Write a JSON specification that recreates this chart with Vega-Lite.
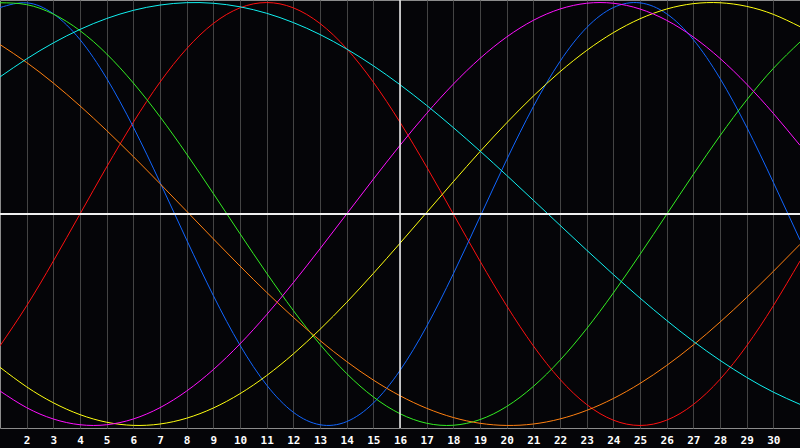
{
  "$schema": "https://vega.github.io/schema/vega-lite/v6.json",
  "width": 800,
  "height": 428,
  "padding": {"left": 0, "top": 0, "right": 0, "bottom": 20},
  "autosize": {"type": "none"},
  "background": "#050508",
  "config": {
    "view": {"stroke": "#8c8c8c", "strokeWidth": 1, "fill": "#050508"},
    "axis": {"labelOverlap": false, "labelSeparation": 0, "labelBound": false, "labelFlush": false}
  },
  "datasets": {
    "curves": [
      {"d":1,"s":"Emotional","v":-0.6235},{"d":2,"s":"Emotional","v":-0.4339},{"d":3,"s":"Emotional","v":-0.2225},{"d":4,"s":"Emotional","v":0},{"d":5,"s":"Emotional","v":0.2225},{"d":6,"s":"Emotional","v":0.4339},{"d":7,"s":"Emotional","v":0.6235},{"d":8,"s":"Emotional","v":0.7818},{"d":9,"s":"Emotional","v":0.901},{"d":10,"s":"Emotional","v":0.9749},{"d":11,"s":"Emotional","v":1},{"d":12,"s":"Emotional","v":0.9749},{"d":13,"s":"Emotional","v":0.901},{"d":14,"s":"Emotional","v":0.7818},{"d":15,"s":"Emotional","v":0.6235},{"d":16,"s":"Emotional","v":0.4339},{"d":17,"s":"Emotional","v":0.2225},{"d":18,"s":"Emotional","v":0},{"d":19,"s":"Emotional","v":-0.2225},{"d":20,"s":"Emotional","v":-0.4339},{"d":21,"s":"Emotional","v":-0.6235},{"d":22,"s":"Emotional","v":-0.7818},{"d":23,"s":"Emotional","v":-0.901},{"d":24,"s":"Emotional","v":-0.9749},{"d":25,"s":"Emotional","v":-1},{"d":26,"s":"Emotional","v":-0.9749},{"d":27,"s":"Emotional","v":-0.901},{"d":28,"s":"Emotional","v":-0.7818},{"d":29,"s":"Emotional","v":-0.6235},{"d":30,"s":"Emotional","v":-0.4339},{"d":31,"s":"Emotional","v":-0.2225},

      {"d":1,"s":"Physical","v":0.9762},{"d":2,"s":"Physical","v":0.9985},{"d":3,"s":"Physical","v":0.9468},{"d":4,"s":"Physical","v":0.8248},{"d":5,"s":"Physical","v":0.6413},{"d":6,"s":"Physical","v":0.411},{"d":7,"s":"Physical","v":0.1497},{"d":8,"s":"Physical","v":-0.1226},{"d":9,"s":"Physical","v":-0.3859},{"d":10,"s":"Physical","v":-0.6205},{"d":11,"s":"Physical","v":-0.809},{"d":12,"s":"Physical","v":-0.9376},{"d":13,"s":"Physical","v":-0.9966},{"d":14,"s":"Physical","v":-0.9818},{"d":15,"s":"Physical","v":-0.8941},{"d":16,"s":"Physical","v":-0.74},{"d":17,"s":"Physical","v":-0.5313},{"d":18,"s":"Physical","v":-0.2828},{"d":19,"s":"Physical","v":-0.0136},{"d":20,"s":"Physical","v":0.2566},{"d":21,"s":"Physical","v":0.5078},{"d":22,"s":"Physical","v":0.7216},{"d":23,"s":"Physical","v":0.8815},{"d":24,"s":"Physical","v":0.9762},{"d":25,"s":"Physical","v":0.9985},{"d":26,"s":"Physical","v":0.9468},{"d":27,"s":"Physical","v":0.8248},{"d":28,"s":"Physical","v":0.6413},{"d":29,"s":"Physical","v":0.411},{"d":30,"s":"Physical","v":0.1497},{"d":31,"s":"Physical","v":-0.1226},

      {"d":1,"s":"Intellectual","v":0.9988},{"d":2,"s":"Intellectual","v":0.9901},{"d":3,"s":"Intellectual","v":0.9456},{"d":4,"s":"Intellectual","v":0.867},{"d":5,"s":"Intellectual","v":0.757},{"d":6,"s":"Intellectual","v":0.6195},{"d":7,"s":"Intellectual","v":0.4599},{"d":8,"s":"Intellectual","v":0.2835},{"d":9,"s":"Intellectual","v":0.0969},{"d":10,"s":"Intellectual","v":-0.0932},{"d":11,"s":"Intellectual","v":-0.2798},{"d":12,"s":"Intellectual","v":-0.4565},{"d":13,"s":"Intellectual","v":-0.6165},{"d":14,"s":"Intellectual","v":-0.7545},{"d":15,"s":"Intellectual","v":-0.8651},{"d":16,"s":"Intellectual","v":-0.9444},{"d":17,"s":"Intellectual","v":-0.9896},{"d":18,"s":"Intellectual","v":-0.999},{"d":19,"s":"Intellectual","v":-0.9723},{"d":20,"s":"Intellectual","v":-0.9104},{"d":21,"s":"Intellectual","v":-0.8155},{"d":22,"s":"Intellectual","v":-0.6915},{"d":23,"s":"Intellectual","v":-0.5423},{"d":24,"s":"Intellectual","v":-0.3735},{"d":25,"s":"Intellectual","v":-0.1912},{"d":26,"s":"Intellectual","v":-0.0019},{"d":27,"s":"Intellectual","v":0.1874},{"d":28,"s":"Intellectual","v":0.3699},{"d":29,"s":"Intellectual","v":0.539},{"d":30,"s":"Intellectual","v":0.6884},{"d":31,"s":"Intellectual","v":0.8135},

      {"d":1,"s":"Aesthetic","v":-0.725},{"d":2,"s":"Aesthetic","v":-0.8175},{"d":3,"s":"Aesthetic","v":-0.8927},{"d":4,"s":"Aesthetic","v":-0.9488},{"d":5,"s":"Aesthetic","v":-0.9847},{"d":6,"s":"Aesthetic","v":-0.9996},{"d":7,"s":"Aesthetic","v":-0.9932},{"d":8,"s":"Aesthetic","v":-0.9656},{"d":9,"s":"Aesthetic","v":-0.9175},{"d":10,"s":"Aesthetic","v":-0.8498},{"d":11,"s":"Aesthetic","v":-0.764},{"d":12,"s":"Aesthetic","v":-0.6618},{"d":13,"s":"Aesthetic","v":-0.5456},{"d":14,"s":"Aesthetic","v":-0.4179},{"d":15,"s":"Aesthetic","v":-0.2811},{"d":16,"s":"Aesthetic","v":-0.1383},{"d":17,"s":"Aesthetic","v":0.0073},{"d":18,"s":"Aesthetic","v":0.1528},{"d":19,"s":"Aesthetic","v":0.2951},{"d":20,"s":"Aesthetic","v":0.431},{"d":21,"s":"Aesthetic","v":0.5577},{"d":22,"s":"Aesthetic","v":0.6727},{"d":23,"s":"Aesthetic","v":0.7734},{"d":24,"s":"Aesthetic","v":0.8575},{"d":25,"s":"Aesthetic","v":0.9232},{"d":26,"s":"Aesthetic","v":0.9693},{"d":27,"s":"Aesthetic","v":0.9948},{"d":28,"s":"Aesthetic","v":0.999},{"d":29,"s":"Aesthetic","v":0.982},{"d":30,"s":"Aesthetic","v":0.9441},{"d":31,"s":"Aesthetic","v":0.886},

      {"d":1,"s":"Intuitive","v":-0.8371},{"d":2,"s":"Intuitive","v":-0.9158},{"d":3,"s":"Intuitive","v":-0.9694},{"d":4,"s":"Intuitive","v":-0.9966},{"d":5,"s":"Intuitive","v":-0.9966},{"d":6,"s":"Intuitive","v":-0.9694},{"d":7,"s":"Intuitive","v":-0.9158},{"d":8,"s":"Intuitive","v":-0.8371},{"d":9,"s":"Intuitive","v":-0.7358},{"d":10,"s":"Intuitive","v":-0.6142},{"d":11,"s":"Intuitive","v":-0.4759},{"d":12,"s":"Intuitive","v":-0.3247},{"d":13,"s":"Intuitive","v":-0.1646},{"d":14,"s":"Intuitive","v":0},{"d":15,"s":"Intuitive","v":0.1646},{"d":16,"s":"Intuitive","v":0.3247},{"d":17,"s":"Intuitive","v":0.4759},{"d":18,"s":"Intuitive","v":0.6142},{"d":19,"s":"Intuitive","v":0.7358},{"d":20,"s":"Intuitive","v":0.8371},{"d":21,"s":"Intuitive","v":0.9158},{"d":22,"s":"Intuitive","v":0.9694},{"d":23,"s":"Intuitive","v":0.9966},{"d":24,"s":"Intuitive","v":0.9966},{"d":25,"s":"Intuitive","v":0.9694},{"d":26,"s":"Intuitive","v":0.9158},{"d":27,"s":"Intuitive","v":0.8371},{"d":28,"s":"Intuitive","v":0.7358},{"d":29,"s":"Intuitive","v":0.6142},{"d":30,"s":"Intuitive","v":0.4759},{"d":31,"s":"Intuitive","v":0.3247},

      {"d":1,"s":"Awareness","v":0.8013},{"d":2,"s":"Awareness","v":0.7163},{"d":3,"s":"Awareness","v":0.6193},{"d":4,"s":"Awareness","v":0.5113},{"d":5,"s":"Awareness","v":0.3947},{"d":6,"s":"Awareness","v":0.2714},{"d":7,"s":"Awareness","v":0.1435},{"d":8,"s":"Awareness","v":0.0131},{"d":9,"s":"Awareness","v":-0.1175},{"d":10,"s":"Awareness","v":-0.2462},{"d":11,"s":"Awareness","v":-0.3706},{"d":12,"s":"Awareness","v":-0.4886},{"d":13,"s":"Awareness","v":-0.5983},{"d":14,"s":"Awareness","v":-0.6978},{"d":15,"s":"Awareness","v":-0.7853},{"d":16,"s":"Awareness","v":-0.8594},{"d":17,"s":"Awareness","v":-0.9188},{"d":18,"s":"Awareness","v":-0.9625},{"d":19,"s":"Awareness","v":-0.9897},{"d":20,"s":"Awareness","v":-0.9999},{"d":21,"s":"Awareness","v":-0.9931},{"d":22,"s":"Awareness","v":-0.9692},{"d":23,"s":"Awareness","v":-0.9288},{"d":24,"s":"Awareness","v":-0.8725},{"d":25,"s":"Awareness","v":-0.8013},{"d":26,"s":"Awareness","v":-0.7163},{"d":27,"s":"Awareness","v":-0.6193},{"d":28,"s":"Awareness","v":-0.5113},{"d":29,"s":"Awareness","v":-0.3947},{"d":30,"s":"Awareness","v":-0.2714},{"d":31,"s":"Awareness","v":-0.1435},

      {"d":1,"s":"Spiritual","v":0.6483},{"d":2,"s":"Spiritual","v":0.7336},{"d":3,"s":"Spiritual","v":0.809},{"d":4,"s":"Spiritual","v":0.8729},{"d":5,"s":"Spiritual","v":0.9245},{"d":6,"s":"Spiritual","v":0.9631},{"d":7,"s":"Spiritual","v":0.9881},{"d":8,"s":"Spiritual","v":0.9994},{"d":9,"s":"Spiritual","v":0.9966},{"d":10,"s":"Spiritual","v":0.9798},{"d":11,"s":"Spiritual","v":0.9492},{"d":12,"s":"Spiritual","v":0.9053},{"d":13,"s":"Spiritual","v":0.8488},{"d":14,"s":"Spiritual","v":0.7804},{"d":15,"s":"Spiritual","v":0.7009},{"d":16,"s":"Spiritual","v":0.6115},{"d":17,"s":"Spiritual","v":0.5136},{"d":18,"s":"Spiritual","v":0.4086},{"d":19,"s":"Spiritual","v":0.2979},{"d":20,"s":"Spiritual","v":0.1828},{"d":21,"s":"Spiritual","v":0.0652},{"d":22,"s":"Spiritual","v":-0.0532},{"d":23,"s":"Spiritual","v":-0.1709},{"d":24,"s":"Spiritual","v":-0.2862},{"d":25,"s":"Spiritual","v":-0.3976},{"d":26,"s":"Spiritual","v":-0.5033},{"d":27,"s":"Spiritual","v":-0.6021},{"d":28,"s":"Spiritual","v":-0.6921},{"d":29,"s":"Spiritual","v":-0.7726},{"d":30,"s":"Spiritual","v":-0.8424},{"d":31,"s":"Spiritual","v":-0.9002}
    ],
    "today": [{"d":16}],
    "zero": [{"v":0}]
  },
  "layer": [
    {
      "data": {"name": "curves"},
      "mark": {"type": "line", "interpolate": "natural", "strokeWidth": 1, "clip": true},
      "encoding": {
        "x": {
          "field": "d", "type": "quantitative",
          "scale": {"domain": [1, 31], "nice": false, "zero": false},
          "axis": {
            "values": [2,3,4,5,6,7,8,9,10,11,12,13,14,15,16,17,18,19,20,21,22,23,24,25,26,27,28,29,30],
            "title": null, "domain": false, "ticks": false,
            "grid": true, "gridColor": "#444444", "gridWidth": 1,
            "labelColor": "#ffffff", "labelFont": "DejaVu Sans Mono", "labelFontWeight": "bold",
            "labelFontSize": 11, "labelPadding": 6, "labelDx": -1,
            "labelOverlap": false, "labelSeparation": 0
          }
        },
        "y": {
          "field": "v", "type": "quantitative",
          "scale": {"domain": [-1.012, 1.012], "nice": false, "zero": false},
          "axis": null
        },
        "color": {
          "field": "s", "type": "nominal", "legend": null,
          "scale": {
            "domain": ["Physical","Emotional","Intellectual","Intuitive","Aesthetic","Awareness","Spiritual"],
            "range": ["#1166ff","#ff1010","#33ee22","#ff10ff","#ffff10","#ff8010","#10f0f0"]
          }
        }
      }
    },
    {
      "data": {"name": "today"},
      "mark": {"type": "rule", "color": "#f0f0f0", "strokeWidth": 1.5},
      "encoding": {
        "x": {
          "field": "d", "type": "quantitative",
          "axis": {
            "values": [2,3,4,5,6,7,8,9,10,11,12,13,14,15,16,17,18,19,20,21,22,23,24,25,26,27,28,29,30],
            "title": null, "domain": false, "ticks": false,
            "grid": true, "gridColor": "#444444", "gridWidth": 1,
            "labelColor": "#ffffff", "labelFont": "DejaVu Sans Mono", "labelFontWeight": "bold",
            "labelFontSize": 11, "labelPadding": 6, "labelDx": -1,
            "labelOverlap": false, "labelSeparation": 0
          }
        }
      }
    },
    {
      "data": {"name": "zero"},
      "mark": {"type": "rule", "color": "#f0f0f0", "strokeWidth": 2},
      "encoding": {"y": {"field": "v", "type": "quantitative", "axis": null}}
    }
  ]
}
